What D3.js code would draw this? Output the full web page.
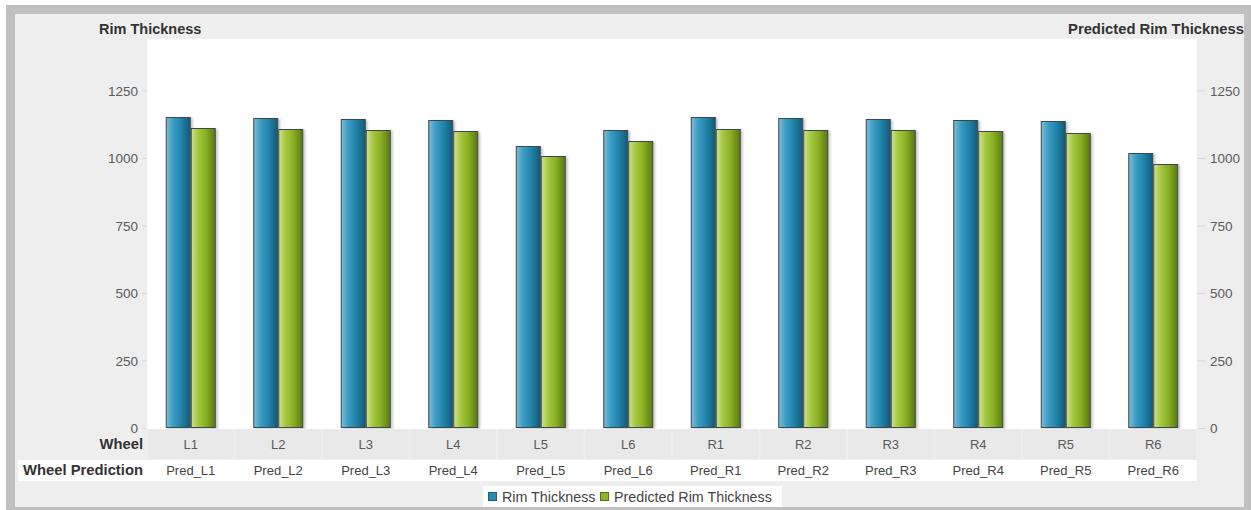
<!DOCTYPE html>
<meta charset="utf-8">
<head>
<style>
body { margin: 0; background: #fff; }
svg text { font-family: "Liberation Sans", Arial, sans-serif; }
.tick line { stroke: #d8d8d8; }
.tick text { fill: #5a5a5a; font-size: 13.5px; }
.domain { display: none; }
</style>
</head>
<body>
<script src="https://d3js.org/d3.v7.min.js"></script>
<script>

var wheels = ["L1", "L2", "L3", "L4", "L5", "L6", "R1", "R2", "R3", "R4", "R5", "R6"];
var predictions = ["Pred_L1", "Pred_L2", "Pred_L3", "Pred_L4", "Pred_L5", "Pred_L6",
                   "Pred_R1", "Pred_R2", "Pred_R3", "Pred_R4", "Pred_R5", "Pred_R6"];
var rimThickness = [1150, 1146, 1143, 1139, 1043, 1102, 1150, 1146, 1143, 1139, 1135, 1017];
var predictedRim = [1109, 1106, 1102, 1098, 1006, 1061, 1106, 1102, 1102, 1098, 1091, 976];
var yTicks = [0, 250, 500, 750, 1000, 1250];
var seriesNames = ["Rim Thickness", "Predicted Rim Thickness"];

var width = 1251, height = 510;

var svg = d3.select("body").append("svg")
    .attr("width", width)
    .attr("height", height);

// frame
svg.append("rect").attr("x", 6).attr("y", 5).attr("width", width).attr("height", height).attr("fill", "#c0c0c0");
svg.append("rect").attr("x", 15).attr("y", 14).attr("width", 1229).attr("height", 493).attr("fill", "#eeeeee");

var plot = {left: 147, right: 1197, top: 39, bottom: 428};

var x = d3.scaleBand().domain(wheels).range([plot.left, plot.right]);
var y = d3.scaleLinear().domain([0, 1440]).range([plot.bottom, plot.top]);
var inner = d3.scaleBand().domain([0, 1]).range([0, 50]);

// plot area
svg.append("rect")
    .attr("x", plot.left).attr("y", plot.top)
    .attr("width", plot.right - plot.left).attr("height", plot.bottom - plot.top + 1)
    .attr("fill", "#fff");

// gradients
var defs = svg.append("defs");
function grad(id, stops) {
  var g = defs.append("linearGradient").attr("id", id)
      .attr("x1", "0%").attr("x2", "100%").attr("y1", "0%").attr("y2", "0%");
  stops.forEach(function(s) {
    g.append("stop").attr("offset", s[0]).attr("stop-color", s[1]);
  });
}
grad("gBlue", [[0, "#7dbdd8"], [0.3, "#3a9bc2"], [0.6, "#2285ad"], [1, "#155a76"]]);
grad("gGreen", [[0, "#cfe28e"], [0.3, "#a3c63e"], [0.6, "#8bb024"], [1, "#5a7812"]]);
var f = defs.append("filter").attr("id", "shadow").attr("x", "-20%").attr("width", "150%");
f.append("feDropShadow").attr("dx", 2).attr("dy", 1).attr("stdDeviation", 1.2)
    .attr("flood-color", "#000").attr("flood-opacity", 0.22);

// axes
var left = svg.append("g")
    .attr("transform", "translate(" + plot.left + ",0)")
    .call(d3.axisLeft(y).tickValues(yTicks).tickFormat(d3.format("d")).tickSize(5).tickPadding(4));
var right = svg.append("g")
    .attr("transform", "translate(" + plot.right + ",0)")
    .call(d3.axisRight(y).tickValues(yTicks).tickFormat(d3.format("d")).tickSize(8).tickPadding(5));
svg.selectAll(".tick text").attr("dy", "0.35em")
    .attr("font-family", "'Liberation Sans', Arial, sans-serif");

// bars
var colors = ["url(#gBlue)", "url(#gGreen)"];
[rimThickness, predictedRim].forEach(function(vals, s) {
  svg.append("g").selectAll("rect")
    .data(vals)
    .enter().append("rect")
      .attr("x", function(d, i) { return x(wheels[i]) + (x.bandwidth() - 50) / 2 + inner(s) + 0.5; })
      .attr("y", function(d) { return Math.round(y(d)) + 0.5; })
      .attr("width", inner.bandwidth() - 1)
      .attr("height", function(d) { return plot.bottom - Math.round(y(d)) - 1; })
      .attr("fill", colors[s])
      .attr("stroke", "#3b4a4f")
      .attr("stroke-width", 1)
      .attr("filter", "url(#shadow)");
});

// category rows
var rowTop = plot.bottom + 1;
svg.append("rect")
    .attr("x", 18).attr("y", rowTop + 31)
    .attr("width", plot.right - 18).attr("height", 21)
    .attr("fill", "#fff");

svg.append("g").selectAll("rect")
  .data(wheels)
  .enter().append("rect")
    .attr("x", function(d) { return x(d) + 1; })
    .attr("y", rowTop)
    .attr("width", x.bandwidth() - 2)
    .attr("height", 30)
    .attr("fill", "#e9e9e9");

svg.append("g").selectAll("text")
  .data(wheels)
  .enter().append("text")
    .attr("x", function(d) { return x(d) + x.bandwidth() / 2; })
    .attr("y", rowTop + 20)
    .attr("text-anchor", "middle")
    .attr("font-size", 13)
    .attr("fill", "#5a5a5a")
    .text(function(d) { return d; });

svg.append("g").selectAll("text")
  .data(predictions)
  .enter().append("text")
    .attr("x", function(d, i) { return x(wheels[i]) + x.bandwidth() / 2; })
    .attr("y", rowTop + 46)
    .attr("text-anchor", "middle")
    .attr("font-size", 13)
    .attr("fill", "#444")
    .text(function(d) { return d; });

svg.append("text").attr("x", 143).attr("y", rowTop + 20)
    .attr("text-anchor", "end").attr("font-size", 14.8).attr("font-weight", "bold")
    .attr("fill", "#333").text("Wheel");
svg.append("text").attr("x", 143).attr("y", rowTop + 46)
    .attr("text-anchor", "end").attr("font-size", 14.8).attr("font-weight", "bold")
    .attr("fill", "#333").text("Wheel Prediction");

// axis titles
svg.append("text").attr("x", 99).attr("y", 34)
    .attr("font-size", 14.5).attr("font-weight", "bold").attr("fill", "#333")
    .text(seriesNames[0]);
svg.append("text").attr("x", 1244).attr("y", 34)
    .attr("text-anchor", "end")
    .attr("font-size", 14.8).attr("font-weight", "bold").attr("fill", "#333")
    .text("Predicted Rim Thickness");

// legend
var lg = svg.append("g").attr("transform", "translate(483,486)");
lg.append("rect").attr("width", 299).attr("height", 21).attr("fill", "#fff");
var sw = [["#2a8ab0", "#1d5f7a"], ["#8eb52a", "#56701a"]];
var offs = [5, 117];
seriesNames.forEach(function(n, i) {
  lg.append("rect").attr("x", offs[i] + 0.5).attr("y", 6.5).attr("width", 8).attr("height", 8)
      .attr("fill", sw[i][0]).attr("stroke", sw[i][1]);
  lg.append("text").attr("x", offs[i] + 14).attr("y", 15.5)
      .attr("font-size", 14.3).attr("fill", "#444").text(n);
});

</script>
</body>
